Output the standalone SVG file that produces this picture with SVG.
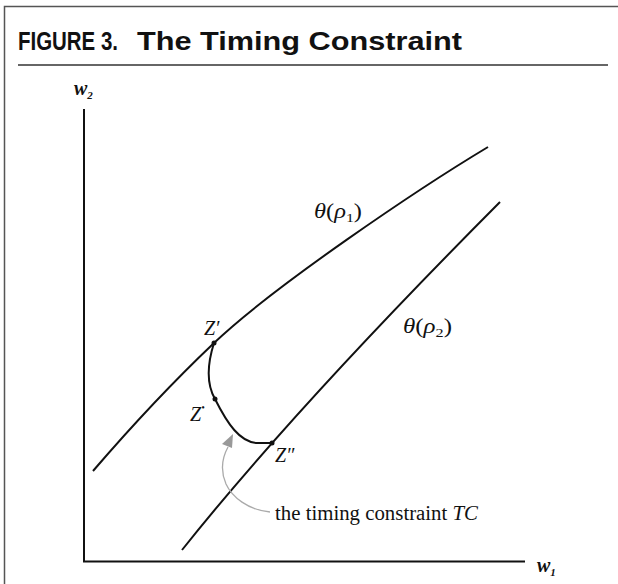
<svg xmlns="http://www.w3.org/2000/svg" width="618" height="584" viewBox="0 0 618 584">
<style>
.title{font-family:"Liberation Sans",Arial,sans-serif;font-weight:bold;font-size:25px;fill:#111}
.lbl{font-family:"Liberation Serif","Times New Roman",serif;font-size:20px;fill:#111}
.it{font-style:italic}
.curve{fill:none;stroke:#111;stroke-width:2}
.axis{fill:none;stroke:#111;stroke-width:2}
.dot{fill:#111}
</style>
<rect width="618" height="584" fill="#fff"/>
<g id="frame">
<path d="M4.5,584 V6.5 H618" fill="none" stroke="#555" stroke-width="1.5"/>
<line x1="18" y1="65" x2="608" y2="65" stroke="#333" stroke-width="1.5"/>
<text class="title" x="18" y="50" textLength="100" lengthAdjust="spacingAndGlyphs">FIGURE 3.</text>
<text class="title" x="137" y="50" textLength="325" lengthAdjust="spacingAndGlyphs">The Timing Constraint</text>
</g>
<g id="axes">
<path class="axis" d="M84,109 V561.5 H525"/>
<text class="lbl it" x="74" y="95" font-weight="bold" font-size="18">w<tspan font-size="11" dy="4">2</tspan></text>
<text class="lbl it" x="537" y="572" font-weight="bold" font-size="18">w<tspan font-size="11" dy="4">1</tspan></text>
</g>
<g id="theta1">
<path class="curve" d="M93,471 C130,428 175,380 214,343 C274,286 418,189 488,147"/>
<text class="lbl" x="314" y="218" textLength="48" lengthAdjust="spacingAndGlyphs"><tspan class="it">θ</tspan>(<tspan class="it">ρ</tspan><tspan font-size="13" dy="4">1</tspan><tspan dy="-4">)</tspan></text>
</g>
<g id="theta2">
<path class="curve" d="M182,550 Q295,408 500,202"/>
<text class="lbl" x="403" y="333" textLength="49" lengthAdjust="spacingAndGlyphs"><tspan class="it">θ</tspan>(<tspan class="it">ρ</tspan><tspan font-size="13" dy="4">2</tspan><tspan dy="-4">)</tspan></text>
</g>
<g id="tc">
<path class="curve" d="M214,343 C207,365 207,385 215,399 C227,423 240,443 258,443 L272,443"/>
<circle class="dot" cx="214" cy="343" r="2.5"/>
<circle class="dot" cx="215" cy="399" r="2.5"/>
<circle class="dot" cx="272" cy="443" r="2.5"/>
<text class="lbl it" x="204" y="335">Z′</text>
<text class="lbl it" x="190" y="421">Z<tspan font-size="10" dy="-10">•</tspan></text>
<text class="lbl it" x="275" y="462">Z″</text>
</g>
<g id="connectors">
<path d="M270,512 C248,510 232,497 226,484 C220,470 222,458 228,447" fill="none" stroke="#aaa" stroke-width="1.3"/>
<polygon points="233,434 222,444 232,448" fill="#999"/>
</g>
<g id="tclabel">
<text class="lbl" x="275" y="520" textLength="203" lengthAdjust="spacingAndGlyphs">the timing constraint <tspan class="it">TC</tspan></text>
</g>
</svg>
